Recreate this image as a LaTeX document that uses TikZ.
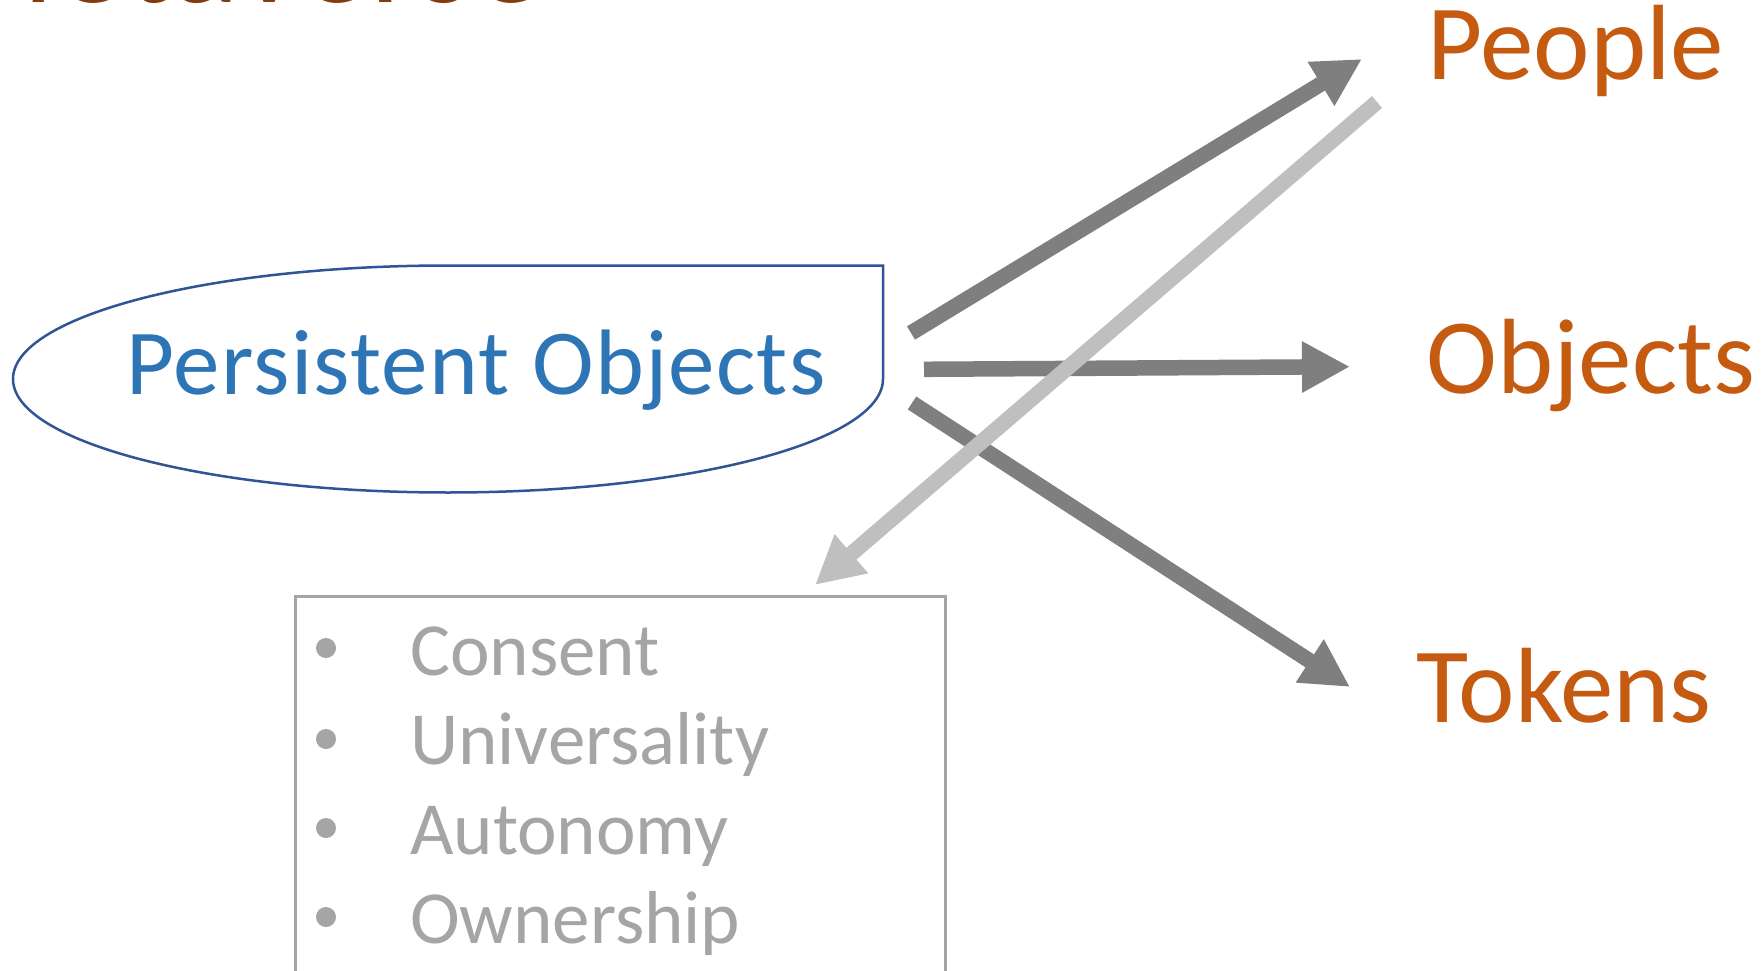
\documentclass[tikz,border=0pt]{standalone}
\usepackage{fontspec}
\setmainfont{Carlito}
\usetikzlibrary{arrows.meta}
\definecolor{titlebrown}{HTML}{843C0C}
\definecolor{poblue}{HTML}{2E75B6}
\definecolor{edgeblue}{HTML}{2F5597}
\definecolor{orangetxt}{HTML}{C55A11}
\definecolor{boxgray}{HTML}{A5A5A5}
\definecolor{darkarrow}{HTML}{7F7F7F}
\definecolor{lightarrow}{HTML}{BFBFBF}
\tikzset{
  titletext/.style={font=\fontsize{142}{150}\selectfont, text=titlebrown, inner sep=0pt, anchor=base west},
  potext/.style={font=\fontsize{93}{100}\selectfont\addfontfeatures{LetterSpace=1.4}, text=poblue, inner sep=0pt, anchor=base west},
  targettext/.style={font=\fontsize{107}{110}\selectfont, text=orangetxt, inner sep=0pt, anchor=base west},
  itemtext/.style={font=\fontsize{75}{80}\selectfont, text=boxgray, inner sep=0pt, anchor=base west},
  bulletdot/.style={circle, fill=boxgray, minimum size=20pt, inner sep=0pt},
  shapeline/.style={draw=edgeblue, line width=2.5pt},
  listbox/.style={draw=boxgray, line width=2.5pt, anchor=north west, minimum width=650pt, minimum height=420pt, inner sep=0pt},
  darkflow/.style={draw=darkarrow, line width=15.5pt, -{Triangle[length=48pt,width=48pt]}},
  lightflow/.style={draw=lightarrow, line width=15.5pt, -{Triangle[length=48pt,width=48pt]}}
}
\begin{document}
\begin{tikzpicture}[x=1pt,y=-1pt]
\path[use as bounding box, clip] (0,0) rectangle (1762,971);
\fill[white] (0,0) rectangle (1762,971);

% cut-off title at the top
\node[titletext] (title) at (-66,3) {Metaverse};

% persistent objects shape
\draw[shapeline] (13,379) arc[start angle=180, end angle=90, x radius=435pt, y radius=113.5pt]
  -- (883,265.5) -- (883,379)
  arc[start angle=0, end angle=-180, x radius=435pt, y radius=113.5pt] -- cycle;
\node[potext] (po) at (126,394) {Persistent Objects};

% targets
\node[targettext] (people) at (1427,80) {People};
\node[targettext] (objects) at (1426,393) {Objects};
\node[targettext] (tokens) at (1416,722) {Tokens};

% list box
\node[listbox] (box) at (294,595) {};
\node[bulletdot] (b1) at (326,648) {};
\node[bulletdot] (b2) at (326,739) {};
\node[bulletdot] (b3) at (326,828) {};
\node[bulletdot] (b4) at (326,917) {};
\node[itemtext] (i1) at (410,675) {Consent};
\node[itemtext] (i2) at (410,764) {Universality};
\node[itemtext] (i3) at (410,854) {Autonomy};
\node[itemtext] (i4) at (410,943) {Ownership};

% arrow end points
\coordinate (poPeople) at (911,333);
\coordinate (atPeople) at (1362,59);
\coordinate (poObjects) at (924,369.3);
\coordinate (atObjects) at (1350,366.7);
\coordinate (poTokens) at (912,403);
\coordinate (atTokens) at (1350,687);
\coordinate (fromPeople) at (1377,102);
\coordinate (atBox) at (815,585);

\draw[darkflow] (poPeople) -- (atPeople);
\draw[darkflow] (poObjects) -- (atObjects);
\draw[darkflow] (poTokens) -- (atTokens);
\draw[lightflow] (fromPeople) -- (atBox);
\end{tikzpicture}
\end{document}
